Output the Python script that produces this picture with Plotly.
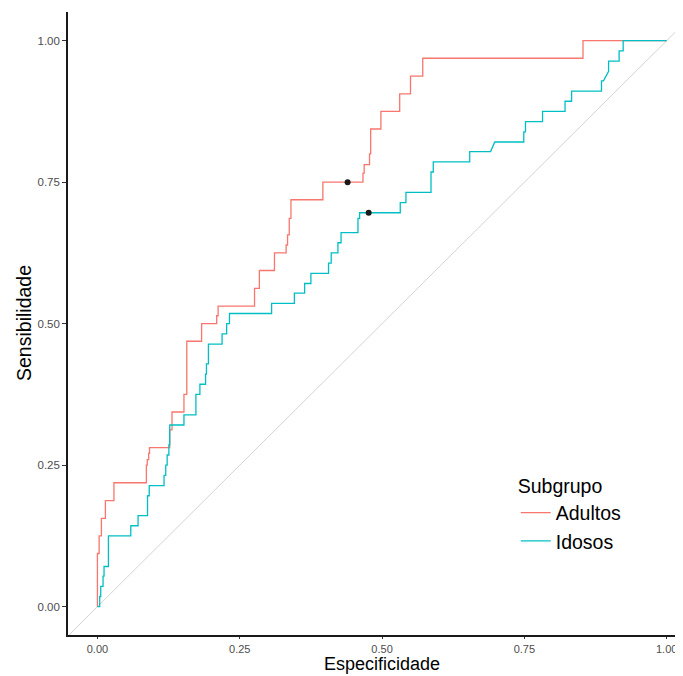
import plotly.graph_objects as go

# ---- data ----
adultos_x = [0, 0, 0.003, 0.003, 0.007, 0.007, 0.014, 0.014, 0.029, 0.029, 0.086, 0.086,
             0.0875, 0.0875, 0.090, 0.090, 0.0915, 0.0915, 0.127, 0.127, 0.131, 0.131,
             0.152, 0.152, 0.157, 0.157, 0.183, 0.183, 0.2095, 0.2095, 0.212, 0.212,
             0.276, 0.276, 0.2845, 0.2845, 0.311, 0.311, 0.3315, 0.3315, 0.334, 0.334,
             0.337, 0.337, 0.340, 0.340, 0.396, 0.396, 0.4665, 0.4665, 0.4686, 0.4686,
             0.478, 0.478, 0.480, 0.480, 0.498, 0.498, 0.531, 0.531, 0.55, 0.55,
             0.5715, 0.5715, 0.853, 0.853, 1.0]
adultos_y = [0, 0.094, 0.094, 0.125, 0.125, 0.156, 0.156, 0.1875, 0.1875, 0.219, 0.219, 0.25,
             0.25, 0.26, 0.26, 0.271, 0.271, 0.281, 0.281, 0.3125, 0.3125, 0.344,
             0.344, 0.375, 0.375, 0.469, 0.469, 0.5, 0.5, 0.514, 0.514, 0.531,
             0.531, 0.5625, 0.5625, 0.594, 0.594, 0.625, 0.625, 0.639, 0.639, 0.657,
             0.657, 0.686, 0.686, 0.719, 0.719, 0.75, 0.75, 0.766, 0.766, 0.781,
             0.781, 0.80, 0.80, 0.844, 0.844, 0.875, 0.875, 0.906, 0.906, 0.9375,
             0.9375, 0.969, 0.969, 1.0, 1.0]

idosos_x = [0, 0.004, 0.004, 0.0058, 0.0058, 0.0099, 0.0099, 0.0116, 0.0116, 0.0193, 0.0193,
            0.0586, 0.0586, 0.0714, 0.0714, 0.088, 0.088, 0.091, 0.091, 0.117, 0.117,
            0.120, 0.120, 0.1225, 0.1225, 0.1255, 0.1255, 0.127, 0.127, 0.152, 0.152,
            0.173, 0.173, 0.180, 0.180, 0.190, 0.190, 0.1915, 0.1915, 0.195, 0.195,
            0.219, 0.219, 0.227, 0.227, 0.232, 0.232, 0.306, 0.306, 0.346, 0.346,
            0.364, 0.364, 0.375, 0.375, 0.406, 0.406, 0.4107, 0.4107, 0.4225, 0.4225,
            0.428, 0.428, 0.4577, 0.4577, 0.4606, 0.4606, 0.532, 0.532, 0.542, 0.542,
            0.586, 0.586, 0.590, 0.590, 0.654, 0.654, 0.6907, 0.698, 0.749, 0.749,
            0.752, 0.752, 0.782, 0.782, 0.8215, 0.8215, 0.833, 0.833, 0.8855, 0.8855,
            0.889, 0.898, 0.898, 0.9165, 0.9165, 0.9236, 0.9236, 1.0]
idosos_y = [0, 0, 0.018, 0.018, 0.036, 0.036, 0.054, 0.054, 0.071, 0.071, 0.125,
            0.125, 0.143, 0.143, 0.161, 0.161, 0.196, 0.196, 0.214, 0.214, 0.232,
            0.232, 0.25, 0.25, 0.268, 0.268, 0.286, 0.286, 0.321, 0.321, 0.339,
            0.339, 0.375, 0.375, 0.393, 0.393, 0.411, 0.411, 0.429, 0.429, 0.464,
            0.464, 0.482, 0.482, 0.5, 0.5, 0.518, 0.518, 0.536, 0.536, 0.554,
            0.554, 0.571, 0.571, 0.589, 0.589, 0.607, 0.607, 0.625, 0.625, 0.643,
            0.643, 0.661, 0.661, 0.686, 0.686, 0.696, 0.696, 0.714, 0.714, 0.732,
            0.732, 0.768, 0.768, 0.786, 0.786, 0.804, 0.804, 0.821, 0.821, 0.839,
            0.839, 0.857, 0.857, 0.875, 0.875, 0.893, 0.893, 0.911, 0.911, 0.929,
            0.929, 0.946, 0.964, 0.964, 0.982, 0.982, 1.0, 1.0]

best_x = [0.4395, 0.4765]
best_y = [0.75, 0.696]

subgroups = ["Adultos", "Idosos"]
colors = ["#F8766D", "#00BFC4"]

diag = [-0.2, 1.2]

x_ticks = [0, 0.25, 0.5, 0.75, 1.0]
y_ticks = [0, 0.25, 0.5, 0.75, 1.0]

FONT = "Liberation Sans, Arial, sans-serif"

fig = go.Figure()
fig.add_trace(go.Scatter(x=diag, y=diag, mode="lines", line=dict(color="#C8C8C8", width=0.8),
                         showlegend=False, hoverinfo="skip"))
fig.add_trace(go.Scatter(x=adultos_x, y=adultos_y, mode="lines", name=subgroups[0],
                         line=dict(color=colors[0], width=1.3)))
fig.add_trace(go.Scatter(x=idosos_x, y=idosos_y, mode="lines", name=subgroups[1],
                         line=dict(color=colors[1], width=1.3)))
fig.add_trace(go.Scatter(x=best_x, y=best_y, mode="markers", showlegend=False,
                         marker=dict(color="#1a1a1a", size=6)))

# the page body has an 8px default margin, so the figure is sized to fit the window
fig.update_layout(
    width=675, height=668,
    margin=dict(l=60, r=0, t=4, b=41, autoexpand=False),
    paper_bgcolor="white", plot_bgcolor="white",
    font=dict(family=FONT),
    xaxis=dict(range=[-0.0517, 1.0287], tickvals=x_ticks, tickformat=".2f", automargin=False,
               showgrid=False, zeroline=False, showline=True, linecolor="#1a1a1a", linewidth=1.6,
               ticks="outside", ticklen=2.5, tickcolor="#333333", tickwidth=1.2,
               tickfont=dict(size=11, color="#4D4D4D", family=FONT)),
    yaxis=dict(range=[-0.050, 1.0507], tickvals=y_ticks, tickformat=".2f", automargin=False,
               showgrid=False, zeroline=False, showline=True, linecolor="#1a1a1a", linewidth=1.6,
               ticks="outside", ticklen=4, tickcolor="#333333", tickwidth=1.2,
               tickfont=dict(size=11.5, color="#4D4D4D", family=FONT)),
    legend=dict(x=0.728, y=0.268, xanchor="left", yanchor="top",
                title=dict(text="Subgrupo", font=dict(size=19.5, color="black", family=FONT)),
                font=dict(size=19.5, color="black", family=FONT),
                bgcolor="rgba(0,0,0,0)"),
    annotations=[
        dict(text="Especificidade", xref="paper", yref="paper", x=0.510, y=-0.0658,
             xanchor="center", yanchor="bottom", showarrow=False,
             font=dict(size=18, color="black", family=FONT)),
        dict(text="Sensibilidade", xref="paper", yref="paper", x=-0.0724, y=0.5016,
             xanchor="center", yanchor="middle", showarrow=False, textangle=-90,
             font=dict(size=19.5, color="black", family=FONT)),
    ],
)

fig.write_html("out.html")
